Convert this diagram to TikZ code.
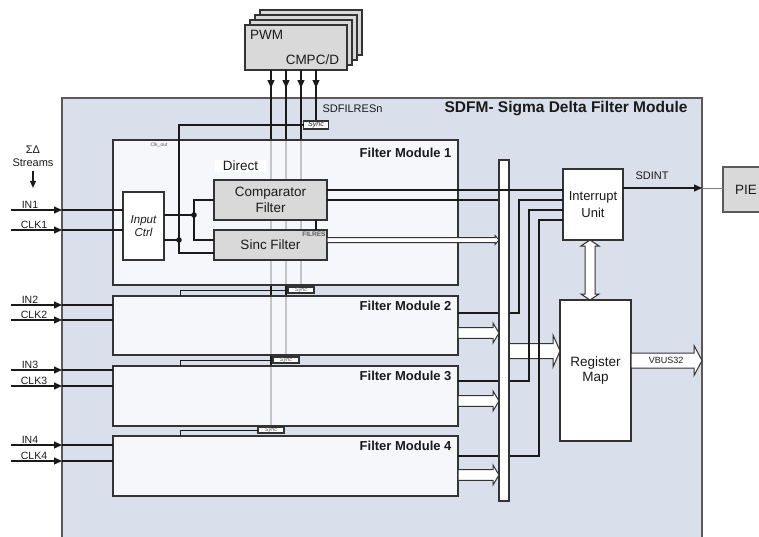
\documentclass[tikz,border=0pt]{standalone}
\usepackage{fontspec}
\setmainfont{Liberation Sans}
\setsansfont{Liberation Sans}
\usetikzlibrary{arrows.meta, positioning, calc}
\definecolor{cline}{HTML}{1A1A1A}
\definecolor{csdfm}{HTML}{D9E0EC}
\definecolor{cgray}{HTML}{D9D9D9}
\definecolor{cedge}{HTML}{333333}
\definecolor{ctext}{HTML}{1A1A1A}
\definecolor{cfaint}{HTML}{5A5A5A}
\tikzset{
  every picture/.style={line width=1.1pt, text=ctext},
  blk/.style={draw=cedge, rectangle, inner sep=0pt, outer sep=0pt, align=center, font=\fontsize{13.5}{16}\selectfont},
  graybox/.style={blk, fill=cgray},
  whitebox/.style={blk, fill=white},
  module/.style={blk, fill=white, fill opacity=0.75, minimum width=345pt, anchor=north west},
  syncbox/.style={blk, fill=white, minimum height=6pt, minimum width=26pt, font=\fontsize{5.5}{6}\selectfont\itshape, text=cfaint},
  sig/.style={draw=cline, line width=1.1pt},
  headed/.style={-{Triangle[length=8pt, width=7pt]}},
  fat/.style={draw=cedge, fill=white, line width=1pt, line join=miter},
  pinlabel/.style={font=\fontsize{10.5}{12}\selectfont, inner sep=0pt},
  modtitle/.style={font=\fontsize{13}{15}\selectfont\bfseries, inner sep=0pt},
  smalltext/.style={font=\fontsize{5}{6}\selectfont, inner sep=0pt, text=cfaint},
}
% hollow arrow pointing right: tail, tip, half body, half head, head length
\newcommand{\fatarrow}[5]{%
  \draw[fat] let \p1=#1, \p2=#2 in
    (\x1,\y1+#3) -- (\x2-#5,\y1+#3) -- (\x2-#5,\y1+#4) -- (\x2,\y1)
    -- (\x2-#5,\y1-#4) -- (\x2-#5,\y1-#3) -- (\x1,\y1-#3) -- cycle;}

\begin{document}
\begin{tikzpicture}[x=1pt, y=-1pt]
  \clip (0,0) rectangle (759,536);

  \node[blk, draw=cfaint, fill=csdfm, minimum width=640pt, minimum height=460pt, anchor=north west] (sdfm) at (62,98) {};
  \node[modtitle, font=\fontsize{15.5}{18}\selectfont\bfseries, anchor=east] (sdfmtitle) at (688,109) {SDFM- Sigma Delta Filter Module};
  \node[pinlabel, font=\fontsize{11}{13}\selectfont, anchor=west] (filresn) at (322,109) {SDFILRESn};

  % PWM stack
  \foreach \i in {3,2,1}
    \node[graybox, minimum width=102pt, minimum height=45pt, anchor=north west] (pwm\i) at (245+5*\i, 25-5*\i) {};
  \node[graybox, minimum width=102pt, minimum height=45pt, anchor=north west] (pwm) at (245,25) {};
  \node[blk, draw=none, anchor=west] (pwmtext) at ([xshift=5pt, yshift=-10pt]pwm.north west) {PWM};
  \node[blk, draw=none, anchor=east] (cmpc) at ([xshift=-8pt, yshift=10pt]pwm.south east) {CMPC/D};

  \coordinate (s1) at (316,125);
  \coordinate (s2) at (301,290);
  \coordinate (s3) at (286,360);
  \coordinate (s4) at (271,430);
  \foreach \k in {1,...,4} {
    \draw[sig] (pwm.south -| s\k) -- (s\k);
    \draw[sig, headed] (pwm.south -| s\k) -- ++(0,18);
  }

  % filter modules
  \node[module, minimum height=145pt] (mod1) at (113,140) {};
  \node[module, minimum height=59pt, below=11pt of mod1] (mod2) {};
  \node[module, minimum height=60pt, below=11pt of mod2] (mod3) {};
  \node[module, minimum height=60pt, below=10pt of mod3] (mod4) {};
  \foreach \k/\d in {1/8pt, 2/5pt, 3/5pt, 4/5pt}
    \node[modtitle, anchor=north east] (title\k) at ([xshift=-6pt, yshift=-\d]mod\k.north east) {Filter Module \k};

  \node[syncbox, minimum width=25pt, minimum height=8pt, font=\fontsize{7}{8}\selectfont\itshape, text=ctext] (sync1) at (s1) {Sync};
  \foreach \k in {2,3,4} {
    \node[syncbox] (sync\k) at (s\k) {Sync};
    \draw[sig, line width=0.9pt] (sync\k.west) -| ([xshift=67pt]mod\k.north west);
  }

  % inside filter module 1
  \node[whitebox, minimum width=41pt, minimum height=68pt, font=\fontsize{11.5}{13}\selectfont\itshape] (ctrl) at (143.5,226) {Input\\Ctrl};
  \node[graybox, minimum width=113pt, minimum height=40pt] (comp) at (270.5,200) {Comparator\\Filter};
  \node[graybox, minimum width=113pt, minimum height=30pt, below=10pt of comp] (sinc) {Sinc Filter};
  \node[blk, draw=none, fill=white, minimum width=51pt, minimum height=12pt] (direct) at (240.5,165.5) {Direct};
  \node[smalltext, anchor=east] (clkout) at (168,145) {Clk\_out};
  \node[smalltext, font=\fontsize{6.5}{7}\selectfont\bfseries, anchor=north east] (filres) at ([xshift=-1pt, yshift=-1.5pt]sinc.north east) {FILRES};

  \coordinate (dj) at (194,215);
  \coordinate (cj) at (179,240);
  \coordinate (sdata) at ([yshift=5pt]sinc.west);
  \coordinate (sclk) at ([yshift=-8pt]sinc.west);
  \draw[sig] (ctrl.east |- dj) -- (dj);
  \draw[sig] (comp.west) -| (dj) |- (sdata);
  \draw[sig] (ctrl.east |- cj) -- (cj);
  \draw[sig] (sync1.west) -| (sclk -| cj) -- (sclk);
  \fill[cline] (dj) circle (2.8pt) (cj) circle (2.8pt);
  \draw[sig] (comp.south -| sync1) -- (sinc.north -| sync1);

  % sigma-delta inputs
  \node[pinlabel, font=\fontsize{11}{13}\selectfont, align=center] (streams) at (33,156) {ΣΔ\\Streams};
  \draw[sig, -{Triangle[length=7pt, width=6pt]}] (streams.south) ++(0,4) -- ++(0,17);
  \foreach \k/\yi/\yc/\to in {1/210/230/ctrl, 2/305/320/mod2, 3/370/386/mod3, 4/445/461/mod4} {
    \draw[sig, headed] (11,\yi) -- (sdfm.west |- 0,\yi);
    \draw[sig, headed] (11,\yc) -- (sdfm.west |- 0,\yc);
    \draw[sig] (sdfm.west |- 0,\yi) -- (\to.west |- 0,\yi);
    \draw[sig] (sdfm.west |- 0,\yc) -- (\to.west |- 0,\yc);
    \node[pinlabel, above=1pt] (in\k) at (30,\yi) {IN\k};
    \node[pinlabel, above=1pt] (clk\k) at (34,\yc) {CLK\k};
  }

  % interrupt unit, register map, PIE
  \node[whitebox, minimum width=60pt, minimum height=71pt, anchor=north west, font=\fontsize{13}{16.5}\selectfont] (int) at (563,169) {Interrupt\\Unit};
  \node[whitebox, minimum width=71pt, minimum height=141pt, anchor=north west, font=\fontsize{13.5}{15}\selectfont] (reg) at (560,300) {Register\\Map};
  \node[graybox, draw=cfaint, minimum width=46pt, minimum height=45pt, anchor=north west] (pie) at (723,167) {PIE};

  \fatarrow{(509,351)}{(reg.west |- 0,351)}{7.5pt}{16pt}{7pt}

  \coordinate (c1) at ([yshift=10pt]comp.east);
  \draw[sig] (comp.east) -- (comp.east -| 499,0);
  \foreach \k/\yo/\xv/\yi in {2/313/519/200, 3/381/529/210, 4/456/539/220}
    \draw[sig] (mod\k.east |- 0,\yo) -| (\xv,\yi) -- (int.west |- 0,\yi);

  \node[whitebox, minimum width=10pt, minimum height=341pt, anchor=north west] (bus) at (499,160) {};
  \draw[sig] (c1) -- (c1 -| int.west);

  \fatarrow{(sdata -| sinc.east)}{(sdata -| bus.west)}{2.5pt}{4.5pt}{4pt}
  \foreach \k/\ya in {2/333, 3/401, 4/475} {
    \fatarrow{(mod\k.east |- 0,\ya)}{(bus.west |- 0,\ya)}{5.3pt}{10pt}{6pt}
  }

  \fatarrow{(reg.east |- 0,360.5)}{(sdfm.east |- 0,360.5)}{7.5pt}{15pt}{8pt}
  \node[pinlabel, font=\fontsize{9}{10}\selectfont] (vbus) at (666,360) {VBUS32};

  \coordinate (ia) at (int.south -| 590,0);
  \coordinate (ib) at (reg.north -| 590,0);
  \draw[fat] let \p1=(ia), \p2=(ib) in
    (\x1,\y1) -- (\x1+9pt,\y1-6pt) -- (\x1+5pt,\y1-6pt) -- (\x1+5pt,\y2+6pt) -- (\x1+9pt,\y2+6pt)
    -- (\x1,\y2) -- (\x1-9pt,\y2+6pt) -- (\x1-5pt,\y2+6pt) -- (\x1-5pt,\y1-6pt) -- (\x1-9pt,\y1-6pt) -- cycle;

  \coordinate (sdint) at ([yshift=16.5pt]int.east);
  \draw[sig, headed] (sdint) -- (sdint -| sdfm.east);
  \draw[draw=gray, line width=0.8pt] (sdint -| sdfm.east) -- (sdint -| pie.west);
  \node[pinlabel, font=\fontsize{11}{13}\selectfont] (sdintlabel) at (652,176) {SDINT};
\end{tikzpicture}
\end{document}
